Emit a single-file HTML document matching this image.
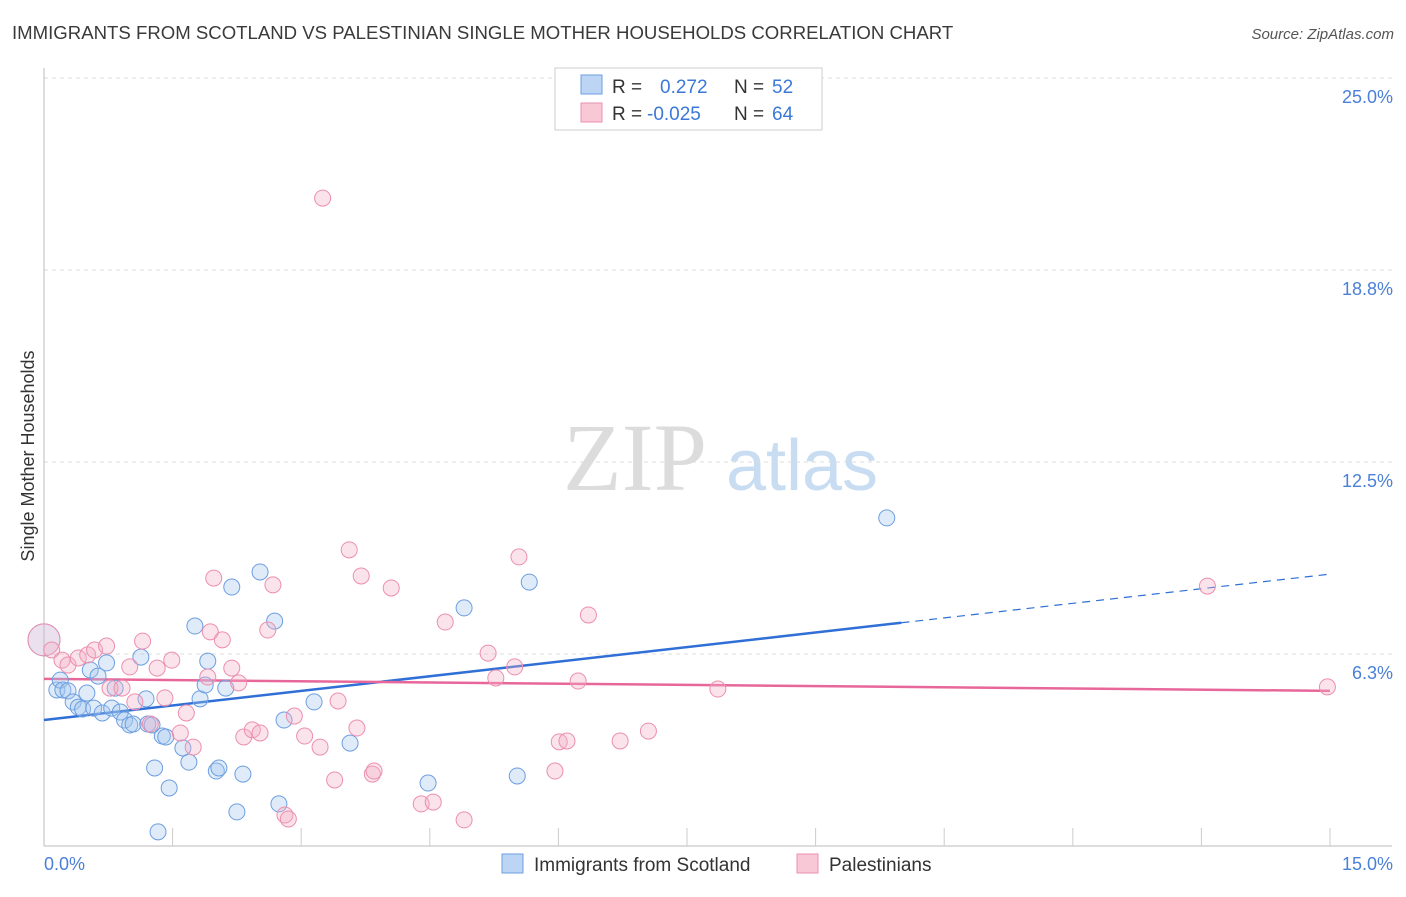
<!DOCTYPE html>
<html><head><meta charset="utf-8"><style>
body{margin:0;background:#fff;font-family:"Liberation Sans",sans-serif;}
</style></head><body>
<svg id="chart" width="1406" height="892" xmlns="http://www.w3.org/2000/svg" font-family="Liberation Sans, sans-serif">
<text x="12" y="39" font-size="18.6" fill="#3a3a3a">IMMIGRANTS FROM SCOTLAND VS PALESTINIAN SINGLE MOTHER HOUSEHOLDS CORRELATION CHART</text>
<text x="1394" y="39" font-size="15" fill="#555" text-anchor="end" font-style="italic">Source: ZipAtlas.com</text>
<text x="635" y="490" font-size="96" fill="#dcdcdc" text-anchor="middle" font-family="Liberation Serif, serif">ZIP</text>
<text x="802" y="490" font-size="72" fill="#c8dcf2" text-anchor="middle">atlas</text>
<text transform="translate(34,456) rotate(-90)" font-size="18" fill="#333" text-anchor="middle">Single Mother Households</text>
<g id="grid"></g><g id="axes"></g><g id="lines"></g><g id="pts"></g>
<g>
<rect x="555" y="68" width="267" height="62" fill="#fff" stroke="#ccc"/>
<rect x="581" y="75" width="21" height="19" fill="#bcd5f5" stroke="#6d9ee0"/>
<text x="612" y="93" font-size="19" fill="#333">R =</text><text x="660" y="93" font-size="19" fill="#3b78d8">0.272</text>
<text x="734" y="93" font-size="19" fill="#333">N =</text><text x="772" y="93" font-size="19" fill="#3b78d8">52</text>
<rect x="581" y="103" width="21" height="19" fill="#f9c8d7" stroke="#ec8fae"/>
<text x="612" y="120" font-size="19" fill="#333">R =</text><text x="647" y="120" font-size="19" fill="#3b78d8">-0.025</text>
<text x="734" y="120" font-size="19" fill="#333">N =</text><text x="772" y="120" font-size="19" fill="#3b78d8">64</text>
</g>
<g>
<rect x="502" y="854" width="21" height="19" fill="#bcd5f5" stroke="#6d9ee0"/>
<text x="534" y="871" font-size="19" fill="#333">Immigrants from Scotland</text>
<rect x="797" y="854" width="21" height="19" fill="#f9c8d7" stroke="#ec8fae"/>
<text x="829" y="871" font-size="19" fill="#333">Palestinians</text>
</g>
</svg>
<script>
const blueX=[0,0.15,0.19,0.22,0.28,0.34,0.40,0.45,0.50,0.54,0.58,0.63,0.68,0.73,0.79,0.83,0.89,0.94,1.00,1.04,1.13,1.19,1.21,1.26,1.29,1.33,1.38,1.42,1.46,1.62,1.69,1.76,1.82,1.88,1.91,2.01,2.04,2.12,2.19,2.25,2.32,2.52,2.69,2.74,2.80,3.15,3.57,4.48,4.90,5.52,5.66,9.83];
const blueY=[6.71,5.08,5.40,5.08,5.05,4.69,4.52,4.46,4.98,5.73,4.49,5.53,4.33,5.96,4.49,5.14,4.36,4.10,3.94,3.97,6.15,4.79,3.97,3.94,2.54,0.46,3.58,3.55,1.89,3.19,2.73,7.16,4.79,5.24,6.02,2.44,2.54,5.14,8.43,1.11,2.34,8.92,7.32,1.37,4.10,4.69,3.35,2.05,7.75,2.28,8.59,10.68];
const pinkX=[0,0.09,0.21,0.28,0.40,0.51,0.59,0.73,0.77,0.91,1.00,1.06,1.15,1.24,1.32,1.41,1.49,1.59,1.66,1.74,1.91,1.94,1.98,2.08,2.19,2.27,2.33,2.43,2.52,2.61,2.67,2.81,2.85,2.92,3.04,3.22,3.25,3.39,3.43,3.56,3.65,3.70,3.83,3.85,4.05,4.40,4.54,4.68,4.90,5.18,5.27,5.49,5.54,5.96,6.01,6.10,6.23,6.35,6.72,7.05,7.86,13.57,14.97];
const pinkY=[6.71,6.38,6.05,5.89,6.12,6.22,6.38,6.51,5.14,5.14,5.83,4.69,6.67,3.97,5.79,4.82,6.05,3.68,4.33,3.22,5.50,6.97,8.72,6.71,5.79,5.31,3.55,3.78,3.68,7.03,8.50,1.01,0.88,4.23,3.58,3.22,21.09,2.15,4.72,9.64,3.84,8.79,2.34,2.44,8.40,1.37,1.43,7.29,0.85,6.28,5.47,5.83,9.41,2.44,3.39,3.42,5.37,7.52,3.42,3.74,5.11,8.46,5.18];
const yTicks=[6.25,12.5,18.75,25.0];
const yTickLabels=['6.3%','12.5%','18.8%','25.0%'];
const blueTrend=[4.10,8.85];
const pinkTrend=[5.44,5.05];
const NS="http://www.w3.org/2000/svg";
const sx=v=>44+v/15*1286, sy=v=>846-v/6.25*192;
function mk(tag,attrs,parent){const e=document.createElementNS(NS,tag);for(const k in attrs)e.setAttribute(k,attrs[k]);document.getElementById(parent).appendChild(e);return e;}
yTicks.forEach((t,i)=>{
 const g=mk('line',{x1:44,x2:1392,y1:sy(t),y2:sy(t),stroke:'#ddd','stroke-dasharray':'4,4'},'grid');
 
 
 const l=mk('text',{x:1393,y:sy(t)+25,'font-size':18,fill:'#4a80d8','text-anchor':'end'},'axes');
 
 
 l.textContent=yTickLabels[i];
});
const ya=mk('line',{x1:44,x2:44,y1:68,y2:846,stroke:'#bbb'},'axes');


const xa=mk('line',{x1:44,x2:1392,y1:846,y2:846,stroke:'#bbb'},'axes');


for(let i=1;i<=10;i++){const t=mk('line',{x1:sx(i*1.5),x2:sx(i*1.5),y1:828,y2:846,stroke:'#ccc'},'axes');
 
 }
const x0=mk('text',{x:44,y:870,'font-size':18,fill:'#4a80d8'},'axes');


x0.textContent='0.0%';
const x1=mk('text',{x:1393,y:870,'font-size':18,fill:'#4a80d8','text-anchor':'end'},'axes');


x1.textContent='15.0%';
function pts(X,Y,fill,stroke,name){X.forEach((x,i)=>{const c=mk('circle',{cx:sx(x),cy:sy(Y[i]),r:i===0?16:8,fill:fill,'fill-opacity':i===0?0.25:0.35,stroke:stroke,'stroke-width':1},'pts');
 
 });}
pts(blueX,blueY,'#a4c6ef','#6d9ee0','scotland-point');
pts(pinkX,pinkY,'#f4b0c6','#ec8fae','palestinian-point');
const bAt=x=>blueTrend[0]+(blueTrend[1]-blueTrend[0])*x/15;
const b1=mk('line',{x1:sx(0),y1:sy(bAt(0)),x2:sx(10),y2:sy(bAt(10)),stroke:'#2f6fd6','stroke-width':2.5},'lines');


const b2=mk('line',{x1:sx(10),y1:sy(bAt(10)),x2:sx(15),y2:sy(bAt(15)),stroke:'#2f6fd6','stroke-width':1.2,'stroke-dasharray':'8,6'},'lines');


const p1=mk('line',{x1:sx(0),y1:sy(pinkTrend[0]),x2:sx(15),y2:sy(pinkTrend[1]),stroke:'#e8679a','stroke-width':2.5},'lines');


</script>
</body></html>
